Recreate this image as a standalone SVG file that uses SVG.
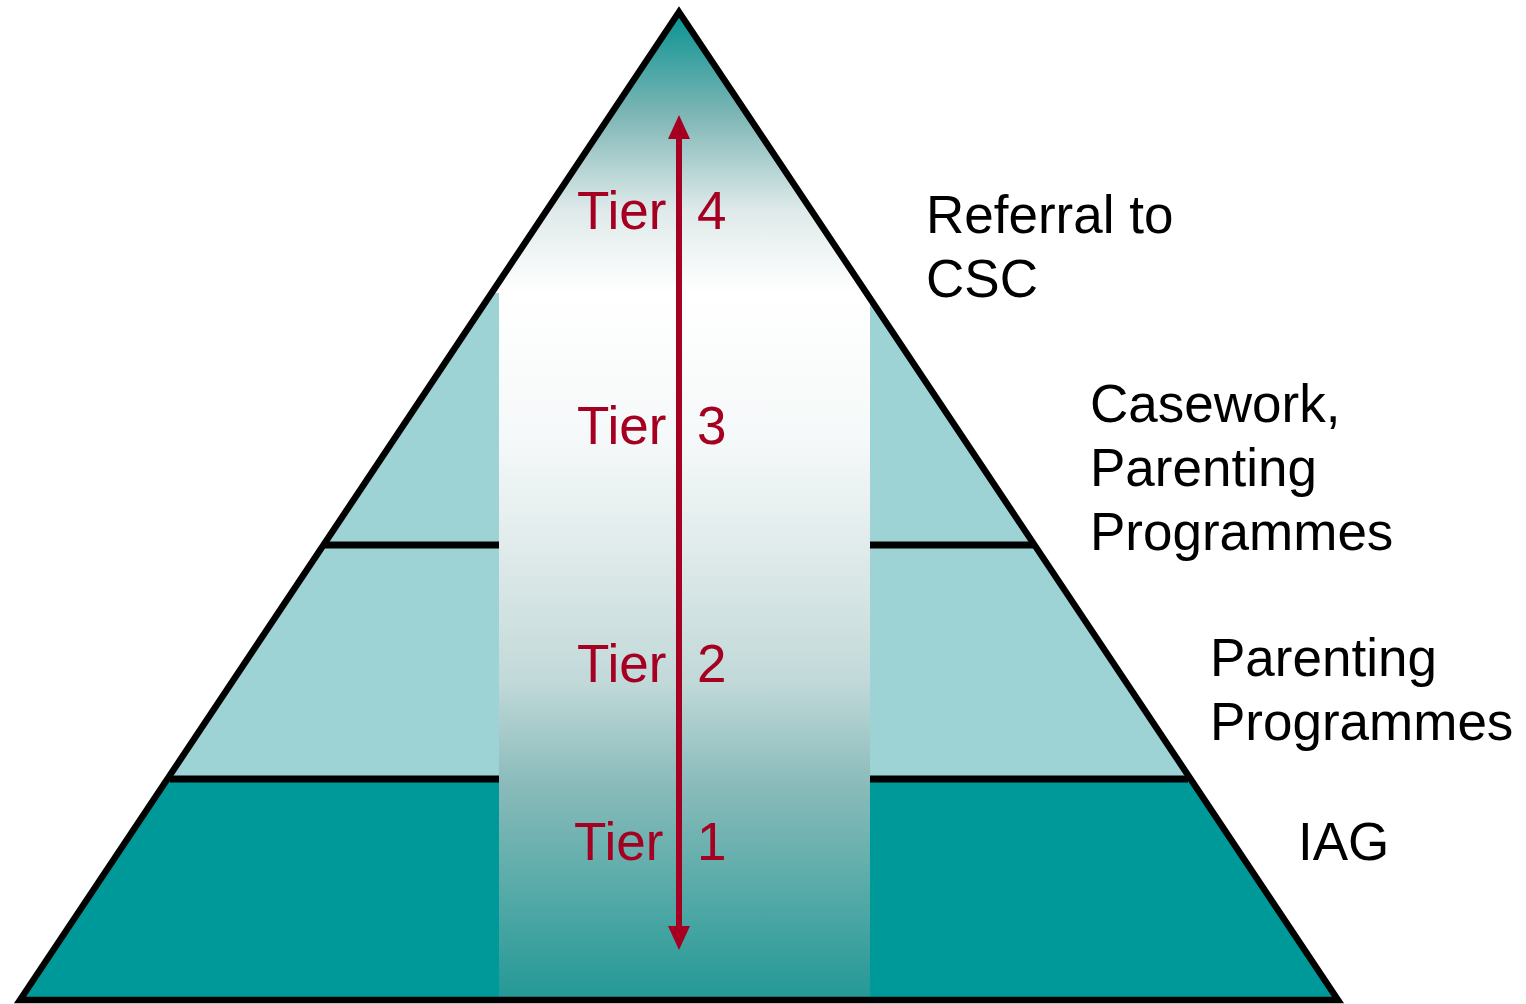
<svg xmlns="http://www.w3.org/2000/svg" width="1526" height="1004" viewBox="0 0 1526 1004">
<style>
.lbl{font-family:"Liberation Sans",Arial,sans-serif;font-size:53px;fill:#000}
.tier{font-family:"Liberation Sans",Arial,sans-serif;font-size:53px;fill:#a50021}
.light{fill:#9ed3d6}
.dark{fill:#009999}
.sep{stroke:#000;stroke-width:7}
</style>
<defs>
<linearGradient id="gTop" gradientUnits="userSpaceOnUse" x1="0" y1="18" x2="0" y2="293">
<stop offset="0" stop-color="#0f9494"/>
<stop offset="0.35" stop-color="#7db6b5"/>
<stop offset="0.7" stop-color="#dfeaea"/>
<stop offset="1" stop-color="#ffffff"/>
</linearGradient>
<linearGradient id="gCol" gradientUnits="userSpaceOnUse" x1="0" y1="293" x2="0" y2="997">
<stop offset="0" stop-color="#ffffff"/>
<stop offset="0.2" stop-color="#f6f9f9"/>
<stop offset="0.37" stop-color="#dfeaea"/>
<stop offset="0.55" stop-color="#c2d9d9"/>
<stop offset="0.7" stop-color="#89bbba"/>
<stop offset="1" stop-color="#249996"/>
</linearGradient>
<marker id="ah" viewBox="0 0 24 22" refX="2" refY="11" markerWidth="24" markerHeight="22" markerUnits="userSpaceOnUse" orient="auto-start-reverse">
<path d="M0,0 L24,11 L0,22 z" fill="#a50021"/>
</marker>
</defs>
<g id="tier1"><polygon class="dark" points="167,779 1190,779 1338,1000 20,1000"/></g>
<g id="tier2"><polygon class="light" points="323,545 1035,545 1190,779 167,779"/></g>
<g id="tier3"><polygon class="light" points="492,293 866,293 1035,545 323,545"/></g>
<g id="tier4"><polygon fill="url(#gTop)" points="679,14 866,293 492,293"/></g>
<g id="separators">
<line class="sep" x1="325" y1="545" x2="1035" y2="545"/>
<line class="sep" x1="170" y1="779" x2="1188" y2="779"/>
</g>
<g id="column"><rect x="499" y="293" width="371" height="704" fill="url(#gCol)"/></g>
<g id="outline"><polygon points="679,12 20,1000 1338,1000" fill="none" stroke="#000" stroke-width="6.5" stroke-linejoin="miter"/></g>
<g id="connectors">
<line x1="679" y1="137" x2="679" y2="928" stroke="#a50021" stroke-width="6" marker-start="url(#ah)" marker-end="url(#ah)"/>
</g>
<g id="tier-labels">
<text class="tier" x="577" y="229">Tier <tspan x="697">4</tspan></text>
<text class="tier" x="577" y="444">Tier <tspan x="697">3</tspan></text>
<text class="tier" x="577" y="682">Tier <tspan x="697">2</tspan></text>
<text class="tier" x="574" y="860">Tier <tspan x="697">1</tspan></text>
</g>
<g id="labels">
<text class="lbl" x="926" y="233">Referral to</text>
<text class="lbl" x="926" y="297">CSC</text>
<text class="lbl" x="1090" y="422">Casework,</text>
<text class="lbl" x="1090" y="486">Parenting</text>
<text class="lbl" x="1090" y="550">Programmes</text>
<text class="lbl" x="1210" y="676">Parenting</text>
<text class="lbl" x="1210" y="740">Programmes</text>
<text class="lbl" x="1298" y="860">IAG</text>
</g>
</svg>
